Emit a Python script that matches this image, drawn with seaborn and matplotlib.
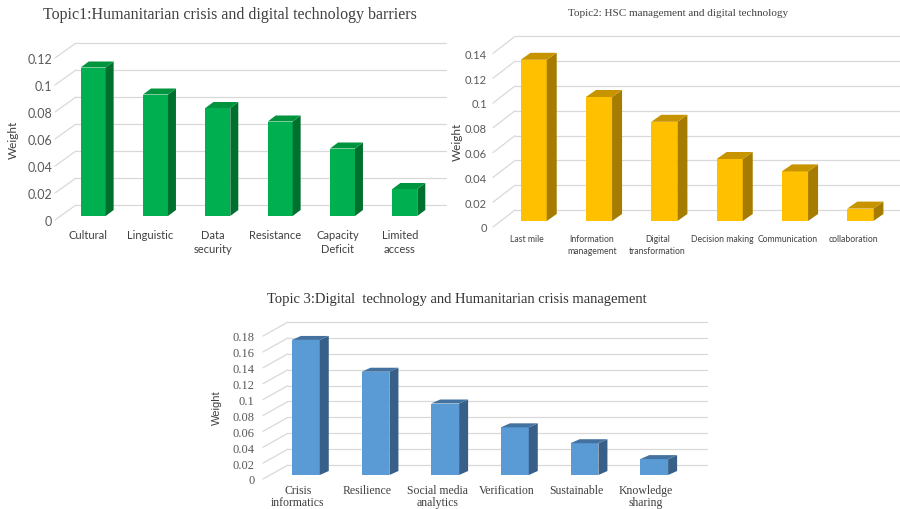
import matplotlib
matplotlib.use('Agg')
import matplotlib.pyplot as plt
import matplotlib.transforms as mtrans
from matplotlib.patches import Polygon
from matplotlib.lines import Line2D
import seaborn as sns

W, H, DPI = 900, 510, 100

# ---- data ----
t1_title = 'Topic1:Humanitarian crisis and digital technology barriers'
t1_cats = ['Cultural', 'Linguistic', 'Data\nsecurity', 'Resistance', 'Capacity\nDeficit', 'Limited\naccess']
t1_vals = [0.11, 0.09, 0.08, 0.07, 0.05, 0.02]
t1_ticks = [0, 0.02, 0.04, 0.06, 0.08, 0.1, 0.12]
t1_labels = ['0', '0.02', '0.04', '0.06', '0.08', '0.1', '0.12']

t2_title = 'Topic2: HSC management and digital technology'
t2_cats = ['Last mile', 'Information\nmanagement', 'Digital\ntransformation', 'Decision making',
           'Communication', 'collaboration']
t2_vals = [0.13, 0.10, 0.08, 0.05, 0.04, 0.01]
t2_ticks = [0, 0.02, 0.04, 0.06, 0.08, 0.1, 0.12, 0.14]
t2_labels = ['0', '0.02', '0.04', '0.06', '0.08', '0.1', '0.12', '0.14']

t3_title = 'Topic 3:Digital  technology and Humanitarian crisis management'
t3_cats = ['Crisis\ninformatics', 'Resilience', 'Social media\nanalytics', 'Verification',
           'Sustainable', 'Knowledge\nsharing']
t3_vals = [0.17, 0.13, 0.09, 0.06, 0.04, 0.02]
t3_ticks = [0, 0.02, 0.04, 0.06, 0.08, 0.1, 0.12, 0.14, 0.16, 0.18]
t3_labels = ['0', '0.02', '0.04', '0.06', '0.08', '0.1', '0.12', '0.14', '0.16', '0.18']

sns.set_theme(style='white')
plt.rcParams['font.family'] = ['Lato', 'DejaVu Sans']
SERIF = ['Liberation Serif', 'DejaVu Serif']
GRID = '#d9d9d9'

fig = plt.figure(figsize=(W / DPI, H / DPI), dpi=DPI)
fig.patch.set_facecolor('white')


def px_axes(left, top, right, bottom):
    return fig.add_axes([left / W, 1 - bottom / H, (right - left) / W, (bottom - top) / H])


def shift(dx, dy):
    return mtrans.ScaledTranslation(dx / DPI, dy / DPI, fig.dpi_scale_trans)


def panel(ax, cats, vals, ticks, labels, face, side, top, back, depth, lab_off,
          wall_right, ypad, xpad, xshift, yfont, xfont, fam, lsp):
    sns.barplot(x=cats, y=vals, color=face, saturation=1, width=0.4, ax=ax,
                linewidth=0, edgecolor='none', zorder=2)
    ax.set_xlim(-0.5, len(cats) - 0.5)
    ax.set_ylim(ticks[0], ticks[-1])
    ax.patch.set_visible(False)
    for s in ax.spines.values():
        s.set_visible(False)
    ax.set_xlabel('')
    ax.set_ylabel('')
    ax.set_yticks(ticks)
    ax.set_yticklabels(labels, family=fam, fontsize=yfont, color='#595959')
    ax.set_xticks(range(len(cats)))
    ax.set_xticklabels(cats, family=fam, fontsize=xfont, color='#404040')
    ax.tick_params(axis='y', length=0, pad=ypad)
    ax.tick_params(axis='x', length=0, pad=xpad)
    for lb in ax.get_yticklabels():
        lb.set_transform(lb.get_transform() + shift(0, lab_off[1]))
    for lb in ax.get_xticklabels():
        lb.set_transform(lb.get_transform() + shift(xshift, 0))
        lb.set_linespacing(lsp)

    # back wall grid + diagonals on the left
    x0 = ax.get_xlim()[0]
    for t in ticks:
        X, Y = ax.transData.transform((x0, t))
        fig.add_artist(Line2D([X + back[0], wall_right], [Y + back[1], Y + back[1]],
                              color=GRID, lw=0.9, transform=mtrans.IdentityTransform(), zorder=-1))
        fig.add_artist(Line2D([X + lab_off[0], X + back[0]], [Y + lab_off[1], Y + back[1]],
                              color=GRID, lw=0.9, transform=mtrans.IdentityTransform(), zorder=-1))

    # 3d side and top faces from the bars seaborn drew
    dx, dy = depth
    for p in ax.patches:
        bx, by = p.get_x(), p.get_y()
        bw, bh = p.get_width(), p.get_height()
        (xl, yb) = ax.transData.transform((bx, by))
        (xr, yt) = ax.transData.transform((bx + bw, by + bh))
        fig.add_artist(Polygon([(xr, yb), (xr + dx, yb + dy), (xr + dx, yt + dy), (xr, yt)],
                               closed=True, facecolor=side, edgecolor='none',
                               transform=mtrans.IdentityTransform(), zorder=1))
        fig.add_artist(Polygon([(xl, yt), (xr, yt), (xr + dx, yt + dy), (xl + dx, yt + dy)],
                               closed=True, facecolor=top, edgecolor='none',
                               transform=mtrans.IdentityTransform(), zorder=1))


# Topic 1
ax1 = px_axes(62, 55, 436, 217)
panel(ax1, t1_cats, t1_vals, t1_ticks, t1_labels, '#00b050', '#00702f', '#00943f',
      back=(14, 11), depth=(8, 6), lab_off=(-7, -4), wall_right=446,
      ypad=7, xpad=9.5, xshift=-5, yfont=9, xfont=8, fam=['Lato', 'DejaVu Sans'], lsp=1.35)
fig.text(230 / W, 1 - 15 / H, t1_title, ha='center', va='center', family=SERIF,
         fontsize=11.5, color='#404040')
fig.text(13 / W, 1 - 140 / H, 'Weight', rotation=90, ha='center', va='center',
         fontsize=8.5, color='#404040')

# Topic 2
ax2 = px_axes(501, 48.4, 893, 222)
panel(ax2, t2_cats, t2_vals, t2_ticks, t2_labels, '#ffc000', '#a67c00', '#c79400',
      back=(14, 11), depth=(10, 7), lab_off=(-8, -6), wall_right=900,
      ypad=10, xpad=9, xshift=-7, yfont=8, xfont=6.2, fam=['Lato', 'DejaVu Sans'], lsp=1.45)
fig.text(678 / W, 1 - 13 / H, t2_title, ha='center', va='center', family=SERIF,
         fontsize=8, color='#404040')
fig.text(457 / W, 1 - 142 / H, 'Weight', rotation=90, ha='center', va='center',
         fontsize=8.5, color='#404040')

# Topic 3
ax3 = px_axes(271, 333, 689, 476)
panel(ax3, t3_cats, t3_vals, t3_ticks, t3_labels, '#5b9bd5', '#375f87', '#4472a0',
      back=(17, 10), depth=(9, 4), lab_off=(-8, -4), wall_right=707,
      ypad=12, xpad=6.5, xshift=-8, yfont=9, xfont=8.5, fam=SERIF, lsp=0.95)
fig.text(457 / W, 1 - 300 / H, t3_title, ha='center', va='center', family=SERIF,
         fontsize=10.5, color='#333333')
fig.text(217 / W, 1 - 408 / H, 'Weight', rotation=90, ha='center', va='center',
         fontsize=8, color='#404040', family=['Liberation Sans Narrow', 'Liberation Sans'])

fig.savefig('out.png', dpi=DPI, facecolor='white')
